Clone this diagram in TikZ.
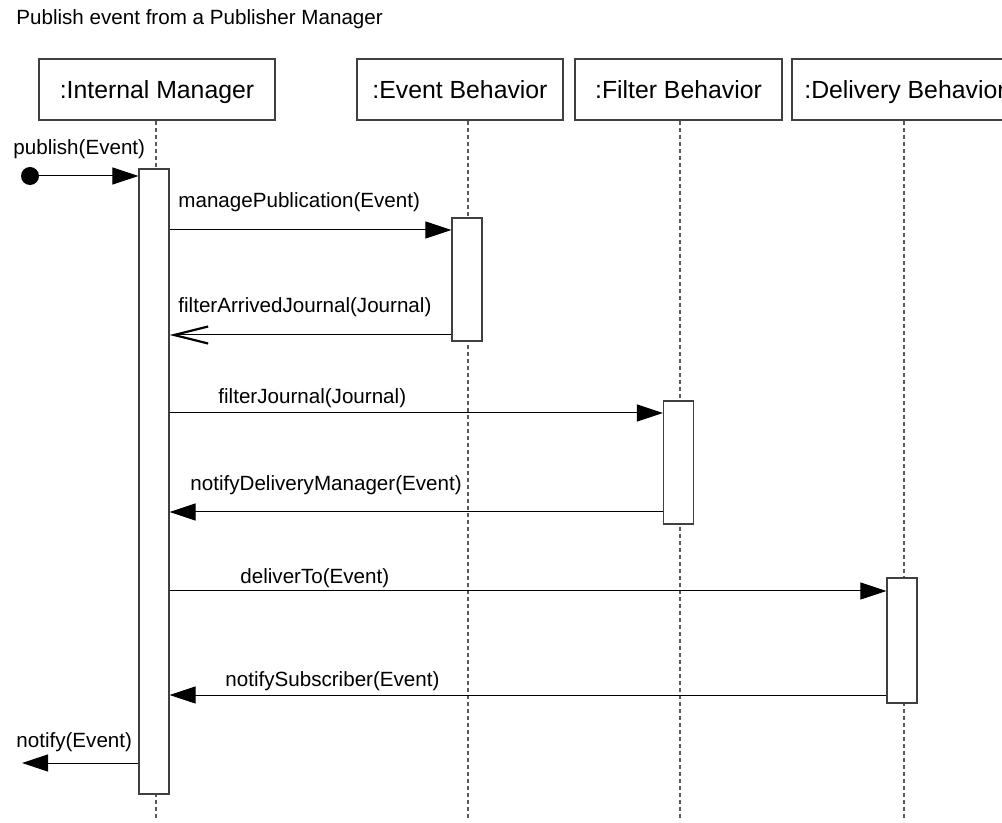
\documentclass[tikz,border=0pt]{standalone}
\usepackage{fontspec}
\setmainfont{Liberation Sans}
\usetikzlibrary{arrows.meta}
\tikzset{
	head/.style={draw=black!75, line width=0.6pt, minimum height=30.5pt, inner sep=0pt, text height=8.9pt, text depth=0pt, font=\fontsize{12.4}{14}\selectfont},
	bar/.style={draw=black!75, fill=white, line width=0.6pt, minimum width=15pt, inner sep=0pt},
	life/.style={draw=black!65, line width=0.6pt, dash pattern=on 2pt off 1.5pt},
	msg/.style={line width=0.5pt, -{Triangle[length=13pt,width=8.5pt]}},
	ret/.style={line width=0.5pt, -{Straight Barb[length=17pt,width=8.5pt,line width=1.1pt]}},
	lbl/.style={font=\fontsize{10.3}{12}\selectfont, inner sep=0pt, anchor=base west},
}
\begin{document}
\begin{tikzpicture}[x=0.5pt, y=-0.5pt]
	\useasboundingbox (0, 0) rectangle (1002, 823);
	\clip (0, 0) rectangle (1002, 823);
	\node[lbl] (title) at (16, 25) {Publish event from a Publisher Manager};
	% lifeline heads
	\node[head, minimum width=118pt] (im) at (157, 89.5) {:Internal Manager};
	\node[head, minimum width=103pt] (eb) at (460, 89.5) {:Event Behavior};
	\node[head, minimum width=103.5pt] (fb) at (678.5, 89.5) {:Filter Behavior};
	\node[head, minimum width=113pt] (db) at (905, 89.5) {:Delivery Behavior};
	% lifelines
	\coordinate (imend) at (156, 818);
	\coordinate (ebend) at (468, 818);
	\coordinate (fbend) at (680, 818);
	\coordinate (dbend) at (904, 818);
	\draw[life] (imend |- im.south) -- (imend);
	\draw[life] (ebend |- eb.south) -- (ebend);
	\draw[life] (fbend |- fb.south) -- (fbend);
	\draw[life] (dbend |- db.south) -- (dbend);
	% activations
	\node[bar, minimum height=312.5pt] (imbar) at (154, 481.5) {};
	\node[bar, minimum height=61.5pt] (ebbar) at (467, 279.5) {};
	\node[bar, minimum height=61.5pt] (fbbar) at (678.5, 462.5) {};
	\node[bar, minimum height=62.5pt] (dbbar) at (902, 640.5) {};
	% messages
	\node[circle, fill=black, minimum size=9pt, inner sep=0pt] (init) at (30, 176) {};
	\draw[msg] (init) -- (init -| imbar.west);
	\node[lbl] (publish) at (13, 155) {publish(Event)};
	\draw[msg] (imbar.east |- 0,230) -- (ebbar.west |- 0,230);
	\node[lbl] (manage) at (178, 208) {managePublication(Event)};
	\draw[ret] (ebbar.west |- 0,335) -- (imbar.east |- 0,335);
	\node[lbl] (arrived) at (178, 313) {filterArrivedJournal(Journal)};
	\draw[msg] (imbar.east |- 0,413) -- (fbbar.west |- 0,413);
	\node[lbl] (filter) at (218, 404) {filterJournal(Journal)};
	\draw[msg] (fbbar.west |- 0,512) -- (imbar.east |- 0,512);
	\node[lbl] (notdel) at (190, 491) {notifyDeliveryManager(Event)};
	\draw[msg] (imbar.east |- 0,591) -- (dbbar.west |- 0,591);
	\node[lbl] (deliver) at (240, 583) {deliverTo(Event)};
	\draw[msg] (dbbar.west |- 0,695) -- (imbar.east |- 0,695);
	\node[lbl] (notsub) at (225, 686) {notifySubscriber(Event)};
	\coordinate (out) at (22, 763);
	\draw[msg] (imbar.west |- out) -- (out);
	\node[lbl] (notify) at (16, 747) {notify(Event)};
\end{tikzpicture}
\end{document}
